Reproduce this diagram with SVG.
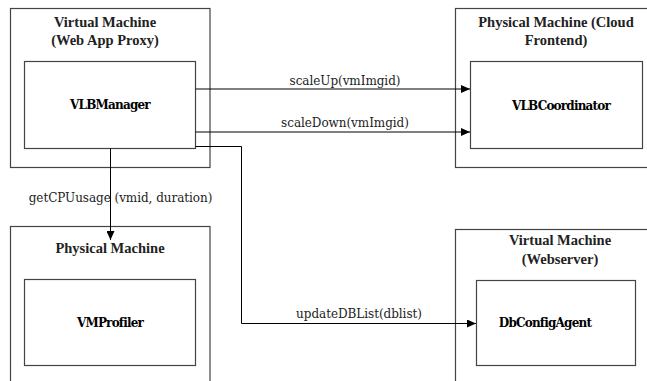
<svg xmlns="http://www.w3.org/2000/svg" width="647" height="381" viewBox="0 0 647 381">
<style>
.box{fill:#fff;stroke:#444;stroke-width:1.2}
.title{font-family:"Liberation Serif","Times New Roman",serif;font-weight:bold;font-size:14.5px;fill:#222;text-anchor:middle}
.name{font-family:"DejaVu Serif","Liberation Serif",serif;font-weight:bold;font-size:12px;fill:#000;text-anchor:middle;letter-spacing:-0.8px}
.lbl{font-family:"DejaVu Serif","Liberation Serif",serif;font-size:12px;fill:#222;text-anchor:middle;letter-spacing:-0.05px}
.edge{fill:none;stroke:#000;stroke-width:1}
</style>
<defs>
<marker id="ah" markerWidth="10" markerHeight="8" refX="9" refY="4" orient="auto" markerUnits="userSpaceOnUse">
<path d="M0,0 L9,4 L0,8 Z" fill="#000"/>
</marker>
</defs>
<rect width="647" height="381" fill="#fff"/>
<g id="vm-proxy">
<rect class="box" x="10.5" y="8.5" width="199.5" height="159"/>
<text class="title" x="105" y="27">Virtual Machine</text>
<text class="title" x="105" y="45">(Web App Proxy)</text>
<g id="vlbmanager">
<rect class="box" x="24.5" y="61.5" width="171" height="87"/>
<text class="name" x="110" y="109">VLBManager</text>
</g>
</g>
<g id="pm-cloud">
<rect class="box" x="455.5" y="8.5" width="200" height="159"/>
<text class="title" x="556" y="27">Physical Machine (Cloud</text>
<text class="title" x="556" y="45">Frontend)</text>
<g id="vlbcoordinator">
<rect class="box" x="470.5" y="61.5" width="172" height="87"/>
<text class="name" x="561" y="110">VLBCoordinator</text>
</g>
</g>
<g id="pm">
<rect class="box" x="10.5" y="226.5" width="199.5" height="170"/>
<text class="title" x="110" y="253">Physical Machine</text>
<g id="vmprofiler">
<rect class="box" x="24.5" y="279.5" width="171" height="86"/>
<text class="name" x="110" y="327">VMProfiler</text>
</g>
</g>
<g id="vm-webserver">
<rect class="box" x="455.5" y="229.5" width="200" height="170"/>
<text class="title" x="560" y="245">Virtual Machine</text>
<text class="title" x="560" y="264">(Webserver)</text>
<g id="dbconfigagent">
<rect class="box" x="476.5" y="280.5" width="159" height="85"/>
<text class="name" x="545" y="327">DbConfigAgent</text>
</g>
</g>
<g id="connectors">
<path class="edge" d="M195.5,89 H470" marker-end="url(#ah)"/>
<path class="edge" d="M195.5,132 H470" marker-end="url(#ah)"/>
<path class="edge" d="M110.5,148.5 V240" marker-end="url(#ah)"/>
<path class="edge" d="M195.5,146.5 H241.5 V323.5 H476" marker-end="url(#ah)"/>
<text class="lbl" x="345" y="85">scaleUp(vmImgid)</text>
<text class="lbl" x="345" y="127">scaleDown(vmImgid)</text>
<text class="lbl" x="120.5" y="202">getCPUusage (vmid, duration)</text>
<text class="lbl" x="359" y="318">updateDBList(dblist)</text>
</g>
</svg>
